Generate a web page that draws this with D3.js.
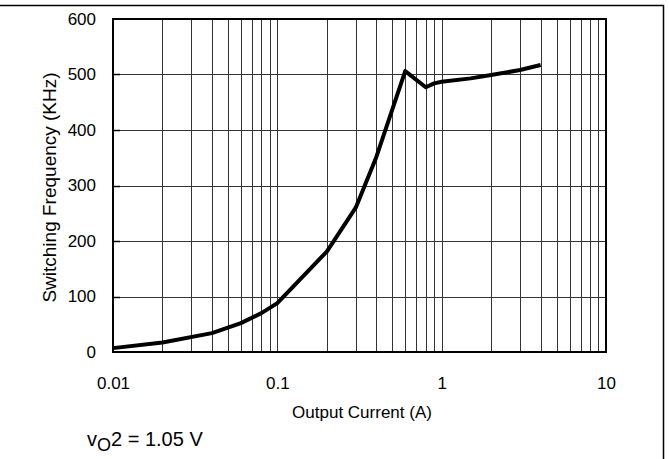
<!DOCTYPE html>
<html>
<head>
<meta charset="utf-8">
<script src="https://cdn.jsdelivr.net/npm/d3@7"></script>
<style>
  html, body { margin: 0; padding: 0; background: #fff; }
  svg { display: block; font-family: Arial, "Liberation Sans", sans-serif; }
</style>
</head>
<body>
<svg id="chart" width="669" height="459"></svg>
<script>
// Output current (A) and measured switching frequency (kHz)
const currentA = [0.01, 0.02, 0.04, 0.06, 0.08, 0.1, 0.2, 0.3, 0.4, 0.6, 0.8, 0.9, 1, 1.5, 2, 3, 4];
const freqKHz  = [7, 17, 34, 52, 70, 88, 181, 260, 351, 506, 477, 484, 487, 493, 499, 508, 517];

const xTickValues = [0.01, 0.1, 1, 10];
const xTickLabels = ["0.01", "0.1", "1", "10"];
const yTickValues = [0, 100, 200, 300, 400, 500, 600];

const svg = d3.select("#chart");
const plotLeft = 113, plotRight = 606, plotTop = 19, plotBottom = 352;

const x = d3.scaleLog().domain([0.01, 10]).range([plotLeft, plotRight]);
const y = d3.scaleLinear().domain([0, 600]).range([plotBottom, plotTop]);

// outer frame: top and right edges
svg.append("line").attr("x1", 0).attr("x2", 664).attr("y1", 5.5).attr("y2", 5.5)
  .attr("stroke", "#000").attr("stroke-width", 1.5);
svg.append("line").attr("x1", 663.5).attr("x2", 663.5).attr("y1", 5).attr("y2", 459)
  .attr("stroke", "#000").attr("stroke-width", 1.5);

// vertical grid at every 1..9 of each decade
const minor = [];
[0.01, 0.1, 1].forEach(d => { for (let k = 2; k <= 9; k++) minor.push(d * k); });
minor.push(0.1, 1);
svg.append("g").selectAll("line").data(minor).join("line")
  .attr("x1", d => Math.round(x(d)) + 0.5).attr("x2", d => Math.round(x(d)) + 0.5)
  .attr("y1", plotTop).attr("y2", plotBottom)
  .attr("stroke", "#333").attr("stroke-width", 1);

// horizontal grid
svg.append("g").selectAll("line").data(yTickValues.slice(1, -1)).join("line")
  .attr("x1", plotLeft).attr("x2", plotRight)
  .attr("y1", d => Math.round(y(d)) + 0.5).attr("y2", d => Math.round(y(d)) + 0.5)
  .attr("stroke", "#333").attr("stroke-width", 1);

// short dark stubs on the left axis at each value tick
svg.append("g").selectAll("line").data(yTickValues.slice(1, -1)).join("line")
  .attr("x1", plotLeft).attr("x2", plotLeft + 7)
  .attr("y1", d => Math.round(y(d)) + 0.5).attr("y2", d => Math.round(y(d)) + 0.5)
  .attr("stroke", "#000").attr("stroke-width", 1.5);

// plot border
svg.append("rect").attr("x", plotLeft).attr("y", plotTop)
  .attr("width", plotRight - plotLeft).attr("height", plotBottom - plotTop)
  .attr("fill", "none").attr("stroke", "#000").attr("stroke-width", 2);

// axes (labels only; lines come from the border)
const yAxis = svg.append("g").attr("transform", `translate(${plotLeft},0)`)
  .call(d3.axisLeft(y).tickValues(yTickValues).tickSize(0).tickPadding(17));
const xAxis = svg.append("g").attr("transform", `translate(0,${plotBottom})`)
  .call(d3.axisBottom(x).tickValues(xTickValues).tickFormat((d, i) => xTickLabels[i]).tickSize(0).tickPadding(25));
[yAxis, xAxis].forEach(g => {
  g.select(".domain").remove();
  g.selectAll("text").attr("font-size", 17).attr("fill", "#000")
    .attr("font-family", "Arial, 'Liberation Sans', sans-serif");
});

// data curve
const line = d3.line().x((d, i) => x(currentA[i])).y(d => y(d));
svg.append("path").datum(freqKHz)
  .attr("d", line)
  .attr("fill", "none").attr("stroke", "#000").attr("stroke-width", 4)
  .attr("stroke-linejoin", "round");

// axis titles
svg.append("text").attr("x", 362).attr("y", 418)
  .attr("text-anchor", "middle").attr("font-size", 17).text("Output Current (A)");
svg.append("text").attr("transform", `translate(56,${(plotTop + plotBottom) / 2 + 2}) rotate(-90)`)
  .attr("text-anchor", "middle").attr("font-size", 19).text("Switching Frequency (KHz)");

// condition note
const note = svg.append("text").attr("x", 87).attr("y", 446).attr("font-size", 20);
note.append("tspan").text("v");
note.append("tspan").attr("font-size", 18).attr("dy", 5).text("O");
note.append("tspan").attr("dy", -5).text("2 = 1.05 V");
</script>
</body>
</html>
